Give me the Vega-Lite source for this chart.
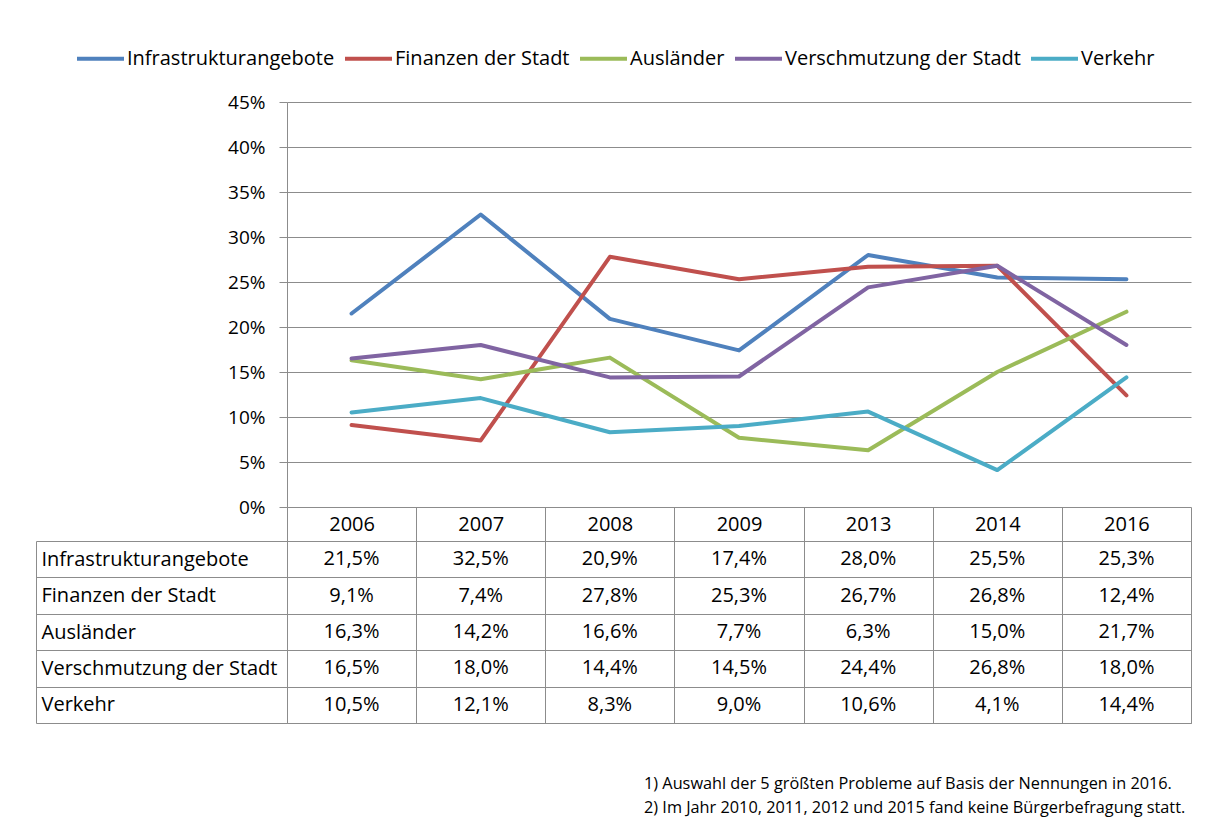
{
  "$schema": "https://vega.github.io/schema/vega-lite/v6.json",
  "padding": {"left": 35, "top": 33, "right": 10, "bottom": 5},
  "background": "white",
  "config": {
    "font": "Open Sans",
    "locale": {"number": {"decimal": ",", "thousands": ".", "grouping": [3], "currency": ["", " €"]}},
    "axis": {"labelColor": "black", "labelFontSize": 20, "labelFont": "Open Sans"},
    "legend": {"labelColor": "black", "labelFontSize": 20, "labelFont": "Open Sans"}
  },
  "title": {
    "text": ["1) Auswahl der 5 größten Probleme auf Basis der Nennungen in 2016.", "2) Im Jahr 2010, 2011, 2012 und 2015 fand keine Bürgerbefragung statt."],
    "orient": "bottom",
    "anchor": "start",
    "frame": "group",
    "align": "left",
    "dx": 357,
    "offset": 52,
    "fontSize": 16.3,
    "fontWeight": "normal",
    "font": "Open Sans",
    "color": "black",
    "lineHeight": 24
  },
  "datasets": {
    "d": [
      {"Problem": "Infrastrukturangebote", "Jahr": "2006", "Wert": 0.215},
      {"Problem": "Infrastrukturangebote", "Jahr": "2007", "Wert": 0.325},
      {"Problem": "Infrastrukturangebote", "Jahr": "2008", "Wert": 0.209},
      {"Problem": "Infrastrukturangebote", "Jahr": "2009", "Wert": 0.174},
      {"Problem": "Infrastrukturangebote", "Jahr": "2013", "Wert": 0.280},
      {"Problem": "Infrastrukturangebote", "Jahr": "2014", "Wert": 0.255},
      {"Problem": "Infrastrukturangebote", "Jahr": "2016", "Wert": 0.253},
      {"Problem": "Finanzen der Stadt", "Jahr": "2006", "Wert": 0.091},
      {"Problem": "Finanzen der Stadt", "Jahr": "2007", "Wert": 0.074},
      {"Problem": "Finanzen der Stadt", "Jahr": "2008", "Wert": 0.278},
      {"Problem": "Finanzen der Stadt", "Jahr": "2009", "Wert": 0.253},
      {"Problem": "Finanzen der Stadt", "Jahr": "2013", "Wert": 0.267},
      {"Problem": "Finanzen der Stadt", "Jahr": "2014", "Wert": 0.268},
      {"Problem": "Finanzen der Stadt", "Jahr": "2016", "Wert": 0.124},
      {"Problem": "Ausländer", "Jahr": "2006", "Wert": 0.163},
      {"Problem": "Ausländer", "Jahr": "2007", "Wert": 0.142},
      {"Problem": "Ausländer", "Jahr": "2008", "Wert": 0.166},
      {"Problem": "Ausländer", "Jahr": "2009", "Wert": 0.077},
      {"Problem": "Ausländer", "Jahr": "2013", "Wert": 0.063},
      {"Problem": "Ausländer", "Jahr": "2014", "Wert": 0.150},
      {"Problem": "Ausländer", "Jahr": "2016", "Wert": 0.217},
      {"Problem": "Verschmutzung der Stadt", "Jahr": "2006", "Wert": 0.165},
      {"Problem": "Verschmutzung der Stadt", "Jahr": "2007", "Wert": 0.180},
      {"Problem": "Verschmutzung der Stadt", "Jahr": "2008", "Wert": 0.144},
      {"Problem": "Verschmutzung der Stadt", "Jahr": "2009", "Wert": 0.145},
      {"Problem": "Verschmutzung der Stadt", "Jahr": "2013", "Wert": 0.244},
      {"Problem": "Verschmutzung der Stadt", "Jahr": "2014", "Wert": 0.268},
      {"Problem": "Verschmutzung der Stadt", "Jahr": "2016", "Wert": 0.180},
      {"Problem": "Verkehr", "Jahr": "2006", "Wert": 0.105},
      {"Problem": "Verkehr", "Jahr": "2007", "Wert": 0.121},
      {"Problem": "Verkehr", "Jahr": "2008", "Wert": 0.083},
      {"Problem": "Verkehr", "Jahr": "2009", "Wert": 0.090},
      {"Problem": "Verkehr", "Jahr": "2013", "Wert": 0.106},
      {"Problem": "Verkehr", "Jahr": "2014", "Wert": 0.041},
      {"Problem": "Verkehr", "Jahr": "2016", "Wert": 0.144}
    ]
  },
  "data": {"name": "d"},
  "bounds": "flush",
  "spacing": 34,
  "vconcat": [
    {
      "width": 904,
      "height": 405,
      "view": {"stroke": null},
      "mark": {"type": "line", "strokeWidth": 4, "strokeCap": "round", "strokeJoin": "round"},
      "encoding": {
        "x": {"field": "Jahr", "type": "ordinal", "scale": {"type": "point", "padding": 0.5, "domain": ["2006", "2007", "2008", "2009", "2013", "2014", "2016"]}, "axis": null},
        "y": {"field": "Wert", "type": "quantitative", "scale": {"domain": [0, 0.45], "nice": false, "zero": true},
          "axis": {"values": [0, 0.05, 0.1, 0.15, 0.2, 0.25, 0.3, 0.35, 0.4, 0.45], "format": ".0%", "title": null, "grid": true, "gridColor": "#8c8c8c", "gridWidth": 1, "domainColor": "#8c8c8c", "domainWidth": 1, "tickColor": "#8c8c8c", "tickSize": 8, "labelPadding": 14, "labelFontSize": 19}},
        "color": {"field": "Problem", "type": "nominal",
          "scale": {"domain": ["Infrastrukturangebote", "Finanzen der Stadt", "Ausländer", "Verschmutzung der Stadt", "Verkehr"], "range": ["#4f81bd", "#c0504d", "#9bbb59", "#8064a2", "#4bacc6"]},
          "legend": {"orient": "none", "legendX": -212, "legendY": -69, "direction": "horizontal", "title": null, "symbolType": "stroke", "symbolSize": 2209, "symbolStrokeWidth": 4, "labelOffset": 1, "columnPadding": 2, "labelLimit": 400}}
      }
    },
    {
      "width": 904,
      "height": 182,
      "view": {"stroke": "#8c8c8c", "strokeWidth": 1},
      "mark": {"type": "text", "fontSize": 20, "color": "black", "baseline": "middle", "align": "center"},
      "encoding": {
        "x": {"field": "Jahr", "type": "ordinal",
          "scale": {"type": "band", "paddingInner": 0, "paddingOuter": 0, "domain": ["2006", "2007", "2008", "2009", "2013", "2014", "2016"]},
          "axis": {"orient": "top", "title": null, "tickBand": "extent", "tickSize": 34, "tickColor": "#8c8c8c", "domain": false, "grid": true, "gridColor": "#8c8c8c", "labelAngle": 0, "labelBaseline": "middle", "labelPadding": -17, "labelOverlap": false}},
        "y": {"field": "Problem", "type": "nominal",
          "scale": {"type": "band", "paddingInner": 0, "paddingOuter": 0, "domain": ["Infrastrukturangebote", "Finanzen der Stadt", "Ausländer", "Verschmutzung der Stadt", "Verkehr"]},
          "axis": {"title": null, "offset": 251, "tickSize": -251, "tickBand": "extent", "tickColor": "#8c8c8c", "domain": true, "domainColor": "#8c8c8c", "grid": true, "gridColor": "#8c8c8c", "labelAlign": "left", "labelBaseline": "middle", "labelPadding": 246, "labelLimit": 300, "labelOverlap": false}},
        "text": {"field": "Wert", "type": "quantitative", "format": ".1%"}
      }
    }
  ]
}
